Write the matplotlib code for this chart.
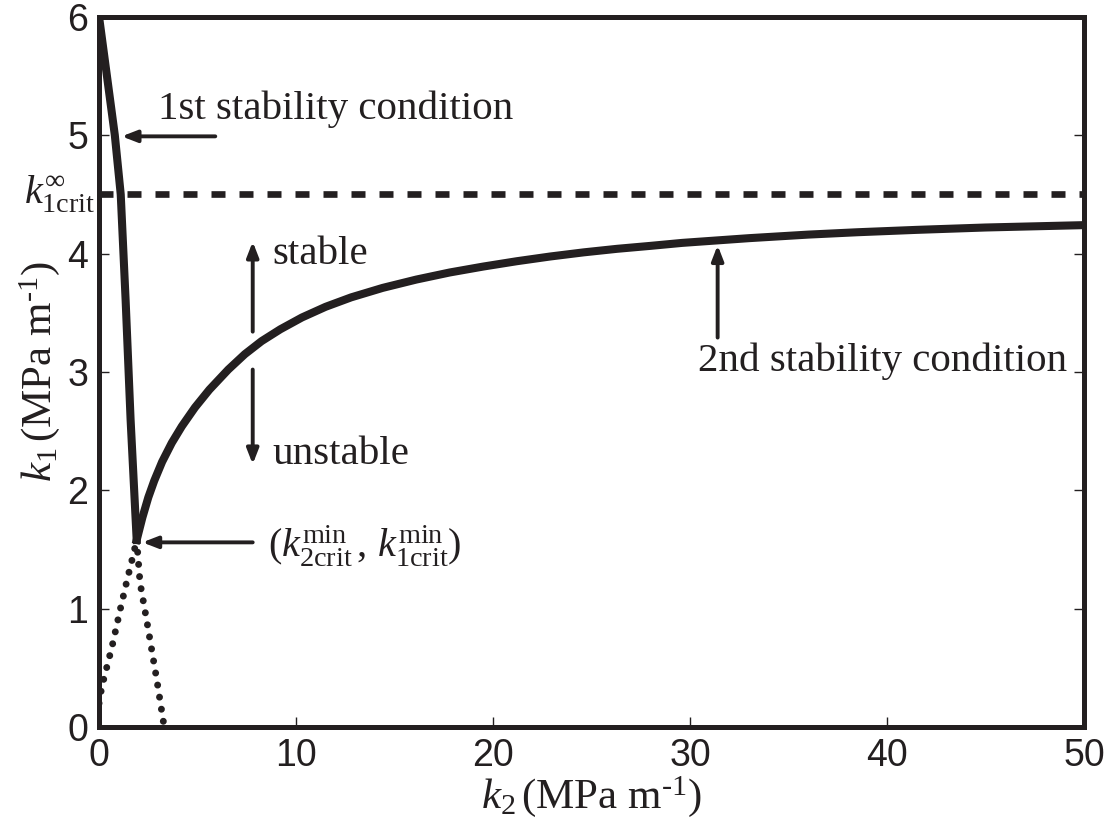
import matplotlib
matplotlib.use("Agg")
import matplotlib.pyplot as plt
import matplotlib.transforms as mtrans

plt.rcParams['font.family'] = ['Liberation Sans', 'DejaVu Sans']
plt.rcParams['mathtext.fontset'] = 'custom'
plt.rcParams['mathtext.rm'] = 'Liberation Serif'
plt.rcParams['mathtext.it'] = 'Liberation Serif:italic'
plt.rcParams['mathtext.bf'] = 'Liberation Serif:bold'

# 1ere condition de stabilite (trait plein)
k2_cond1 = [0.0, 0.4, 0.8, 1.1, 1.35, 1.6, 1.91]
k1_cond1 = [6.0, 5.5, 5.0, 4.5, 3.6, 2.6, 1.58]

# 1ere condition, prolongement en pointilles
k2_cond1_dot = [1.91, 2.08, 2.44, 2.93, 3.27]
k1_cond1_dot = [1.58, 1.22, 0.88, 0.40, 0.04]

# 2eme condition de stabilite (trait plein)
k2_cond2 = [1.91, 2.2, 2.5, 2.8, 3.2, 3.69, 4.2, 4.87, 5.6, 6.56, 7.4, 8.25,
            9.2, 10.3, 11.5, 12.8, 14.4, 16.1, 17.8, 19.5, 21.2, 22.9, 24.6,
            26.3, 28.0, 29.6, 31.3, 33.0, 36.0, 38.5, 41.5, 45.0, 47.5, 50.0]
k1_cond2 = [1.58, 1.77, 1.94, 2.08, 2.24, 2.40, 2.54, 2.70, 2.85, 3.02, 3.15,
            3.26, 3.36, 3.46, 3.55, 3.63, 3.71, 3.78, 3.84, 3.89, 3.935, 3.975,
            4.01, 4.04, 4.065, 4.09, 4.11, 4.13, 4.16, 4.18, 4.20, 4.22, 4.23,
            4.24]

# 2eme condition, prolongement en pointilles
k2_cond2_dot = [0.0, 0.14, 0.66, 1.07, 1.42, 1.73, 1.91]
k1_cond2_dot = [0.2, 0.34, 0.68, 0.99, 1.24, 1.45, 1.58]

k1_crit_inf = 4.5

noir = '#231f20'
serif = 'Liberation Serif'

fig = plt.figure(figsize=(11.13, 8.4), dpi=100)
ax = fig.add_axes([0.089, 0.1345, 0.885, 0.8455])

ax.plot(k2_cond1, k1_cond1, color=noir, lw=5.8, solid_joinstyle='miter')
ax.plot(k2_cond2, k1_cond2, color=noir, lw=5.8, solid_joinstyle='round')
ax.plot(k2_cond1_dot, k1_cond1_dot, color=noir, lw=5, linestyle=(0, (0.01, 1.75)),
        dash_capstyle='round')
ax.plot(k2_cond2_dot, k1_cond2_dot, color=noir, lw=5, linestyle=(0, (0.01, 1.75)),
        dash_capstyle='round')
ax.axhline(k1_crit_inf, color=noir, lw=4.8, linestyle=(0, (2.1, 2.1)))

ax.set_xlim(0, 50)
ax.set_ylim(0, 6)
ax.set_xticks([0, 10, 20, 30, 40, 50])
ax.set_yticks([0, 1, 2, 3, 4, 5, 6])
ax.tick_params(direction='in', length=7, width=1, labelsize=27, color=noir,
               labelcolor=noir, right=True, pad=8)
for s in ax.spines.values():
    s.set_linewidth(3.6)
    s.set_color(noir)

ax.set_xlabel(r'$k_2\,$(MPa m$^{\text{-1}}$)', fontsize=31, color=noir,
              labelpad=0, family=serif)
ax.set_ylabel(r'$k_1\,$(MPa m$^{\text{-1}}$)', fontsize=31, color=noir,
              labelpad=4, family=serif)

# label k1crit infini a gauche de l'axe
trans = mtrans.blended_transform_factory(ax.transAxes, ax.transData)
ax.text(-0.004, k1_crit_inf, r'$k^{\infty}_{1\mathrm{crit}}$', transform=trans,
        ha='right', va='center', fontsize=29, color=noir)

fleche = dict(arrowstyle='-|>,head_length=0.9,head_width=0.35', lw=2.8,
              color=noir, shrinkA=0, shrinkB=0)
txt = dict(fontsize=29.5, color=noir, family=serif)

ax.annotate('', xy=(1.15, 4.99), xytext=(5.9, 4.99), arrowprops=fleche)
ax.text(3.0, 5.22, '1st stability condition', va='center', ha='left', **txt)

ax.annotate('', xy=(7.8, 4.1), xytext=(7.8, 3.34), arrowprops=fleche)
ax.text(8.8, 3.99, 'stable', va='center', ha='left', **txt)
ax.annotate('', xy=(7.8, 2.22), xytext=(7.8, 3.02), arrowprops=fleche)
ax.text(8.8, 2.3, 'unstable', va='center', ha='left', **txt)

ax.annotate('', xy=(31.4, 4.07), xytext=(31.4, 3.29), arrowprops=fleche)
ax.text(30.4, 3.09, '2nd stability condition', va='center', ha='left', **txt)

ax.annotate('', xy=(2.2, 1.56), xytext=(7.8, 1.56), arrowprops=fleche)
ax.text(8.6, 1.53, r'$(k^{\mathrm{min}}_{2\mathrm{crit}}\,,\,k^{\mathrm{min}}_{1\mathrm{crit}})$',
        va='center', ha='left', fontsize=29, color=noir)

plt.savefig('out.png', dpi=100)
